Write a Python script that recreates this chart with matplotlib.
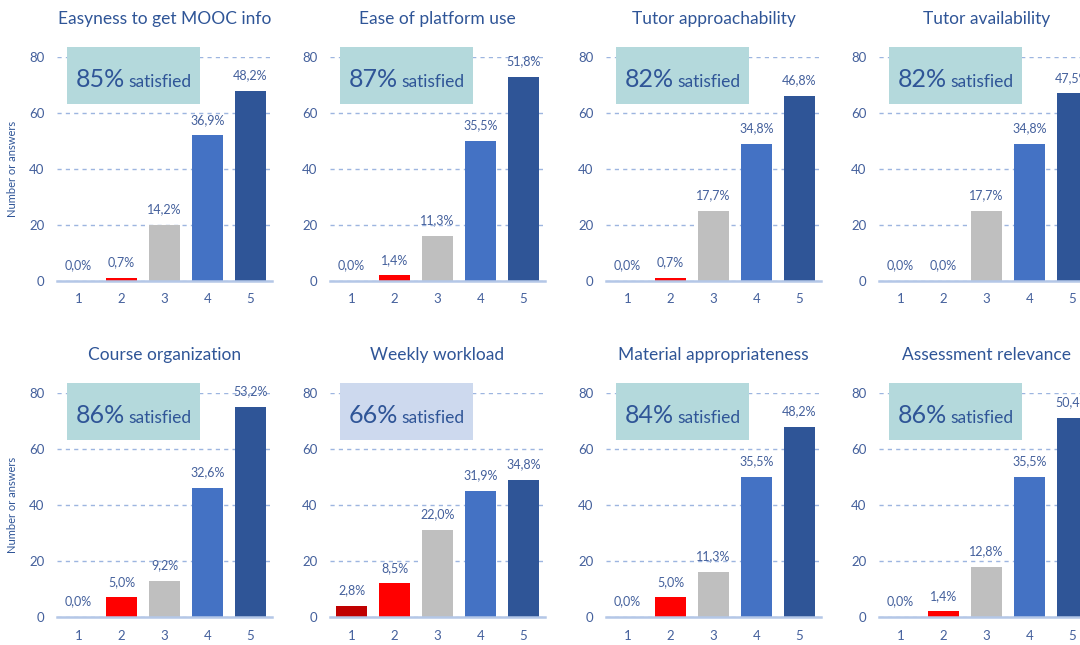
import matplotlib.pyplot as plt
from matplotlib.patches import Rectangle

plt.rcParams['font.family'] = ['Lato', 'DejaVu Sans']

N = 141
scores = [1, 2, 3, 4, 5]

titles = ['Easyness to get MOOC info', 'Ease of platform use',
          'Tutor approachability', 'Tutor availability',
          'Course organization', 'Weekly workload',
          'Material appropriateness', 'Assessment relevance']

# number of answers per score (1..5) for each question
counts = [
    [0, 1, 20, 52, 68],
    [0, 2, 16, 50, 73],
    [0, 1, 25, 49, 66],
    [0, 0, 25, 49, 67],
    [0, 7, 13, 46, 75],
    [4, 12, 31, 45, 49],
    [0, 7, 16, 50, 68],
    [0, 2, 18, 50, 71],
]

satisfied = [85, 87, 82, 82, 86, 66, 84, 86]

bar_colors = ['#c00000', '#ff0000', '#bfbfbf', '#4472c4', '#2f5597']
box_colors = ['#b4d9dc'] * 5 + ['#cdd9ee'] + ['#b4d9dc'] * 2

title_col = '#2f5597'
tick_col = '#44609c'

fig = plt.figure(figsize=(10.8, 6.45), dpi=100)

W, H = 1080, 645
lefts = [57, 330, 606, 879]
zero_y = [281, 617]
ax_w = 215
ax_h = 224

for i, (title, vals) in enumerate(zip(titles, counts)):
    row, col = divmod(i, 4)
    ax = fig.add_axes([lefts[col] / W, (H - zero_y[row]) / H, ax_w / W, ax_h / H])
    ax.bar(scores, vals, width=0.74, color=bar_colors, zorder=3)
    ax.set_xlim(0.5, 5.5)
    ax.set_ylim(0, 80)
    ax.set_yticks([0, 20, 40, 60, 80])
    ax.set_xticks(scores)
    ax.grid(axis='y', color='#9db5e0', linestyle=(0, (3, 3)), linewidth=1.0, zorder=0)
    for s in ['top', 'right', 'left']:
        ax.spines[s].set_visible(False)
    ax.spines['bottom'].set_color('#b4c7e7')
    ax.spines['bottom'].set_linewidth(1.8)
    ax.spines['bottom'].set_zorder(4)
    ax.tick_params(length=0, colors=tick_col, labelsize=9.5)
    ax.tick_params(axis='y', pad=9)
    ax.tick_params(axis='x', pad=9)
    ax.set_title(title, color=title_col, fontsize=12.5, pad=24)

    for x, v in zip(scores, vals):
        pct = f'{v / N * 100:.1f}%'.replace('.', ',')
        ax.annotate(pct, (x, v), xytext=(0, 7), textcoords='offset points',
                    ha='center', va='bottom', fontsize=9, color=tick_col)

    box = Rectangle((0.73, 63.2), 3.1, 20.4, facecolor=box_colors[i],
                    edgecolor='none', clip_on=False, zorder=2)
    ax.add_patch(box)
    ax.text(2.08, 69.3, f'{satisfied[i]}%', ha='right', va='baseline',
            fontsize=18, color=title_col, zorder=5)
    ax.text(2.16, 69.3, 'satisfied', ha='left', va='baseline',
            fontsize=12.5, color=title_col, zorder=5)

    if col == 0:
        ax.set_ylabel('Number or answers', color=title_col, fontsize=8, labelpad=8)

fig.savefig('out.png', dpi=100, facecolor='white')
